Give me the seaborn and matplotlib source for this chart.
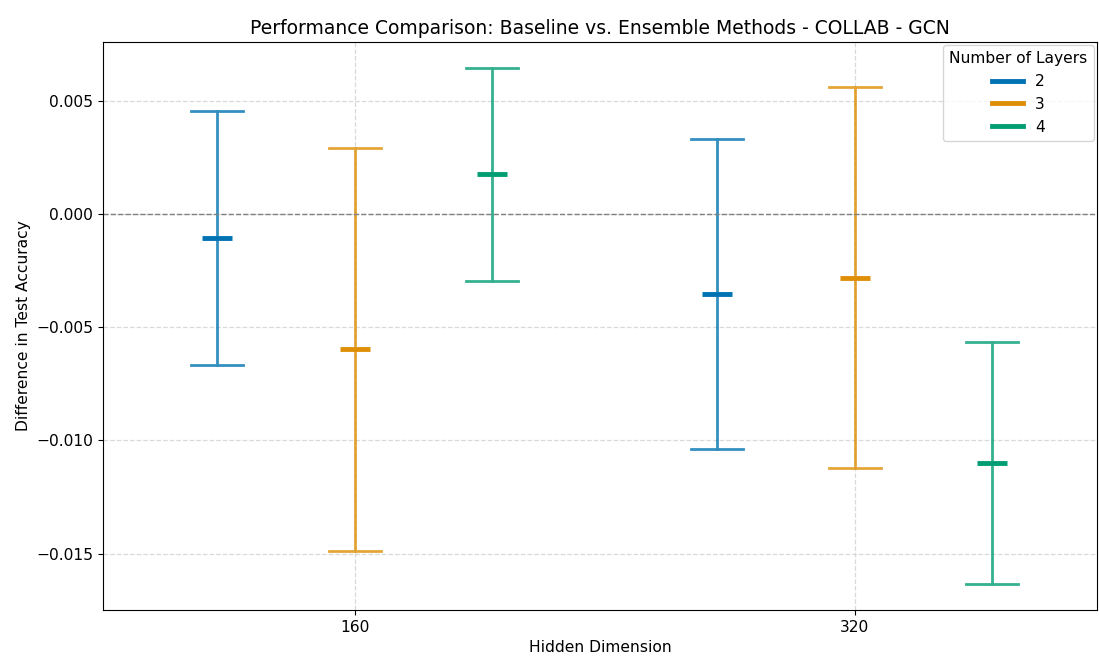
import numpy as np
import pandas as pd
import matplotlib
matplotlib.use("Agg")
import matplotlib.pyplot as plt
import seaborn as sns
from matplotlib.lines import Line2D

hidden_dims = ["160", "320"]
layers = ["2", "3", "4"]
# mean difference per (hidden dim, layers)
means_160 = [-0.00106, -0.00597, 0.00175]
means_320 = [-0.00355, -0.00282, -0.01100]
# half-width of error bar
errs_160 = [0.00560, 0.00890, 0.00470]
errs_320 = [0.00685, 0.00842, 0.00535]

rows = []
for dim, ms, es in [("160", means_160, errs_160), ("320", means_320, errs_320)]:
    for lay, m, e in zip(layers, ms, es):
        for v in (m - e, m, m + e):
            rows.append({"Hidden Dimension": dim, "Number of Layers": lay, "diff": v})
df = pd.DataFrame(rows)

palette = sns.color_palette("colorblind", 3)

fig, ax = plt.subplots(figsize=(10.99, 6.6), dpi=100)
sns.pointplot(
    data=df, x="Hidden Dimension", y="diff", hue="Number of Layers",
    order=hidden_dims, hue_order=layers, palette=palette,
    estimator="mean", errorbar=lambda x: (x.min(), x.max()),
    dodge=0.55, linestyle="none", marker="_", markersize=21,
    markeredgewidth=3.5, capsize=0.104,
    err_kws={"linewidth": 2.0, "alpha": 0.8}, ax=ax, legend=False,
)
ax.axhline(0, color="gray", linestyle="--", linewidth=1)
ax.grid(True, linestyle="--", alpha=0.8, color="#d0d0d0", linewidth=0.9)
ax.set_axisbelow(True)
ax.set_xlim(-0.504, 1.484)
ax.set_title("Performance Comparison: Baseline vs. Ensemble Methods - COLLAB - GCN", fontsize=13.5)
ax.set_xlabel("Hidden Dimension", fontsize=11.2)
ax.set_ylabel("Difference in Test Accuracy", fontsize=11.2)
ax.tick_params(labelsize=11.2)
handles = [Line2D([0], [0], color=c, lw=3.5) for c in palette]
ax.legend(handles, layers, title="Number of Layers", loc="upper right",
          fontsize=11.2, title_fontsize=11.2, borderaxespad=0.2)
fig.subplots_adjust(left=0.0937, right=0.998, top=0.9364, bottom=0.0758)
fig.savefig("out.png", dpi=100)
